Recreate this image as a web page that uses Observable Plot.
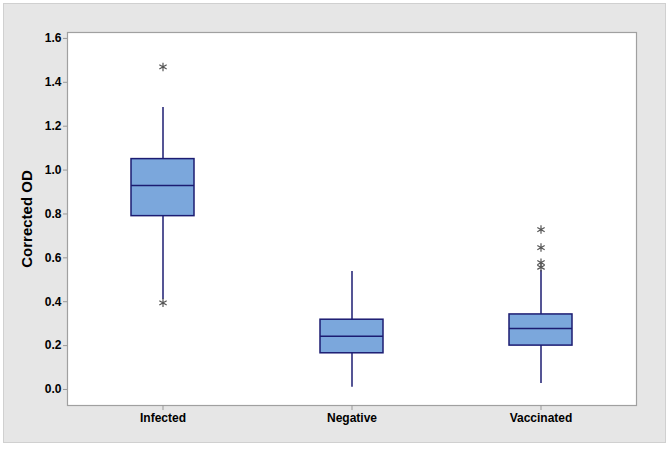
<!DOCTYPE html>
<html>
<head>
<meta charset="utf-8">
<script src="https://cdn.jsdelivr.net/npm/d3@7"></script>
<script src="https://cdn.jsdelivr.net/npm/@observablehq/plot@0.6"></script>
<style>
  html, body { margin: 0; padding: 0; background: white; }
  #wrap { position: relative; width: 671px; height: 449px; overflow: hidden; }
  #panel { position: absolute; left: 3px; top: 3px; width: 661px; height: 438px; background: #e6e6e6; border: 1px solid #d0d0d0; }
  #chart { position: absolute; left: 0; top: 0; }
</style>
</head>
<body>
<div id="wrap"><div id="panel"></div><div id="chart"></div></div>
<script>
const categories = ["Infected", "Negative", "Vaccinated"];
const q1 = [0.79, 0.165, 0.20];
const median = [0.93, 0.243, 0.278];
const q3 = [1.05, 0.318, 0.342];
const whiskerLow = [0.41, 0.01, 0.027];
const whiskerHigh = [1.285, 0.538, 0.542];
const outlierGroup = ["Infected", "Infected", "Vaccinated", "Vaccinated", "Vaccinated", "Vaccinated"];
const outlierValue = [1.47, 0.395, 0.729, 0.647, 0.578, 0.557];
const yTicks = [0, 0.2, 0.4, 0.6, 0.8, 1.0, 1.2, 1.4, 1.6];
const yLabel = "Corrected OD";

const boxes = categories.map((c, i) => ({cat: c, q1: q1[i], med: median[i], q3: q3[i], lo: whiskerLow[i], hi: whiskerHigh[i]}));
const outliers = outlierGroup.map((c, i) => ({cat: c, v: outlierValue[i]}));

const navy = "#1c1c72";
const chart = Plot.plot({
  width: 671,
  height: 449,
  marginLeft: 67,
  marginRight: 35,
  marginTop: 32,
  marginBottom: 44,
  style: {background: "transparent", fontFamily: "'Liberation Sans', Arial, sans-serif", fontSize: "12px", color: "black"},
  x: {type: "band", domain: categories, padding: 0, label: null},
  y: {domain: [-0.073, 1.627], label: null},
  marks: [
    Plot.frame({fill: "white", stroke: "#a0a0a0", strokeWidth: 1.2}),
    Plot.axisY({ticks: yTicks, tickSize: 4, tickPadding: 2, tickFormat: d3.format(".1f"), stroke: "#999", fill: "black", fontWeight: "bold", label: null}),
    Plot.axisX({tickSize: 5, tickPadding: 3, stroke: "#999", fill: "black", fontWeight: "bold", label: null}),
    Plot.text([yLabel], {text: d => d, frameAnchor: "left", textAnchor: "middle", rotate: -90, dx: -40, fontSize: 15, fontWeight: "bold", fill: "black"}),
    Plot.ruleX(boxes, {x: "cat", y1: "lo", y2: "hi", stroke: navy, strokeWidth: 1.5}),
    Plot.barY(boxes, {x: "cat", y1: "q1", y2: "q3", fill: "#7ba7dc", stroke: navy, strokeWidth: 1.5, insetLeft: 63, insetRight: 63}),
    Plot.tickY(boxes, {x: "cat", y: "med", stroke: navy, strokeWidth: 1.5, insetLeft: 63, insetRight: 63}),
    Plot.dot(outliers, {x: "cat", y: "v", symbol: "asterisk", r: 4, stroke: "#555", strokeWidth: 1.2})
  ]
});
document.getElementById("chart").appendChild(chart);
</script>
</body>
</html>
